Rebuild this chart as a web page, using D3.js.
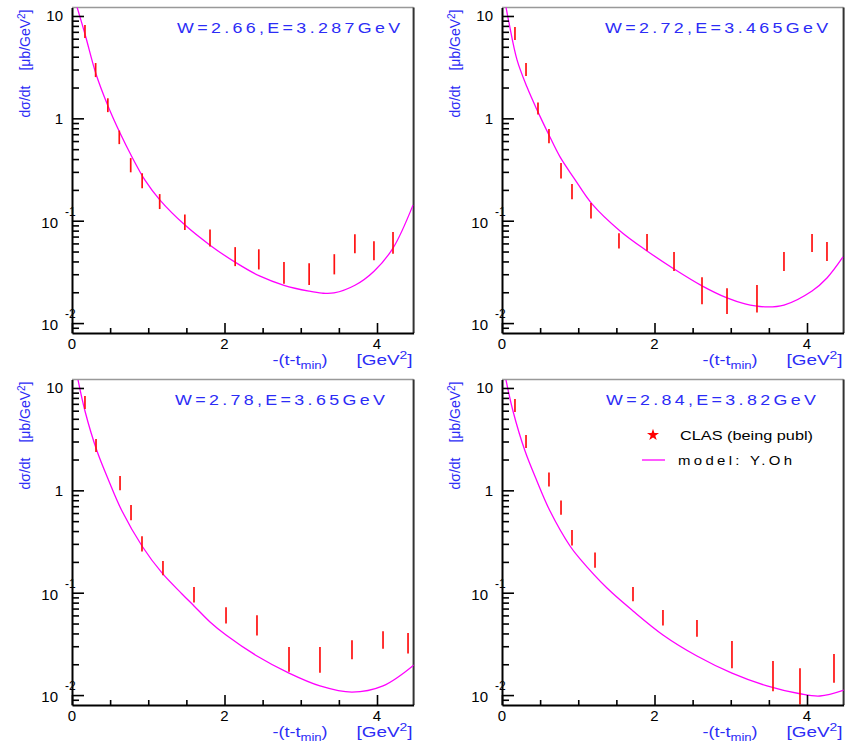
<!DOCTYPE html>
<html>
<head>
<meta charset="utf-8">
<script src="https://cdn.jsdelivr.net/npm/d3@7"></script>
<style>
body { margin: 0; background: #fff; }
text { font-family: "Liberation Sans", Arial, sans-serif; }
</style>
</head>
<body>
<div id="chart"></div>
<script>
// x: -(t-tmin) [GeV^2], y: dsigma/dt [ub/GeV^2]
var titles = ["W=2.66,E=3.287GeV", "W=2.72,E=3.465GeV", "W=2.78,E=3.65GeV", "W=2.84,E=3.82GeV"];

// CLAS points
var clasT1 = [0.17, 0.31, 0.47, 0.62, 0.77, 0.92, 1.15, 1.48, 1.81, 2.14, 2.45, 2.78, 3.11, 3.44, 3.71, 3.96, 4.21];
var clasY1 = [7.13, 3.0, 1.36, 0.66, 0.353, 0.249, 0.156, 0.098, 0.069, 0.0456, 0.043, 0.0318, 0.031, 0.0385, 0.061, 0.052, 0.0625];
var clasE1 = [1.03, 0.47, 0.21, 0.10, 0.056, 0.042, 0.026, 0.017, 0.013, 0.0096, 0.0096, 0.0076, 0.0074, 0.0086, 0.0129, 0.011, 0.0149];

var clasT2 = [0.17, 0.315, 0.472, 0.616, 0.774, 0.918, 1.167, 1.534, 1.902, 2.256, 2.623, 2.951, 3.344, 3.698, 4.066, 4.262];
var clasY2 = [6.82, 3.03, 1.26, 0.679, 0.313, 0.195, 0.127, 0.0646, 0.0625, 0.0408, 0.0217, 0.0171, 0.0181, 0.0408, 0.0618, 0.0511];
var clasE2 = [0.99, 0.44, 0.17, 0.107, 0.054, 0.033, 0.022, 0.011, 0.0115, 0.0086, 0.0064, 0.0048, 0.0054, 0.0086, 0.0122, 0.0108];

var clasT3 = [0.17, 0.315, 0.63, 0.774, 0.918, 1.193, 1.60, 2.02, 2.426, 2.846, 3.252, 3.672, 4.079, 4.407];
var clasY3 = [7.30, 2.77, 1.19, 0.614, 0.305, 0.176, 0.0968, 0.0611, 0.0493, 0.0232, 0.0230, 0.0284, 0.0352, 0.0329];
var clasE3 = [1.06, 0.40, 0.19, 0.105, 0.052, 0.028, 0.0166, 0.0112, 0.011, 0.0063, 0.0065, 0.006, 0.0069, 0.0074];

var clasT4 = [0.17, 0.315, 0.616, 0.774, 0.918, 1.22, 1.718, 2.111, 2.557, 3.016, 3.554, 3.908, 4.354];
var clasY4 = [6.82, 3.03, 1.29, 0.687, 0.349, 0.211, 0.098, 0.0577, 0.0456, 0.026, 0.0162, 0.0132, 0.0192];
var clasE4 = [1.0, 0.44, 0.2, 0.11, 0.06, 0.036, 0.0155, 0.0099, 0.0084, 0.0077, 0.0053, 0.0051, 0.006];

// model: Y.Oh
var modelT1 = [0.066, 0.17, 0.315, 0.472, 0.63, 0.787, 0.957, 1.154, 1.482, 1.81, 2.138, 2.466, 2.78, 3.108, 3.279, 3.436, 3.711, 3.961, 4.21, 4.472];
var modelY1 = [12.25, 6.67, 2.71, 1.32, 0.718, 0.419, 0.249, 0.159, 0.0906, 0.0577, 0.0394, 0.0287, 0.0234, 0.0205, 0.0196, 0.0197, 0.0234, 0.0321, 0.054, 0.142];

var modelT2 = [0.052, 0.092, 0.197, 0.328, 0.459, 0.603, 0.761, 0.944, 1.18, 1.548, 1.902, 2.256, 2.623, 2.951, 3.187, 3.449, 3.698, 4.066, 4.262, 4.472];
var modelY2 = [12.25, 8.55, 3.72, 2.02, 1.21, 0.72, 0.42, 0.261, 0.146, 0.0794, 0.0506, 0.0338, 0.0231, 0.0176, 0.0154, 0.0144, 0.0150, 0.0206, 0.0276, 0.0443];

var modelT3 = [0.079, 0.17, 0.328, 0.485, 0.656, 0.918, 1.18, 1.443, 1.60, 1.81, 2.02, 2.426, 2.846, 3.252, 3.672, 4.079, 4.485];
var modelY3 = [11.97, 5.96, 2.42, 1.23, 0.628, 0.286, 0.156, 0.0973, 0.0743, 0.0518, 0.0386, 0.0241, 0.0164, 0.0123, 0.0107, 0.0123, 0.0197];

var modelT4 = [0.052, 0.144, 0.302, 0.459, 0.63, 0.892, 1.023, 1.377, 1.718, 2.111, 2.557, 3.016, 3.475, 3.908, 4.17, 4.485];
var modelY4 = [11.97, 5.96, 2.42, 1.23, 0.628, 0.286, 0.214, 0.111, 0.0664, 0.0387, 0.0241, 0.0164, 0.0123, 0.0103, 0.0098, 0.0112];

var yMajor = [0.01, 0.1, 1, 10];
var xMajor = [0, 2, 4];
var xMinor = [0.5, 1, 1.5, 2.5, 3, 3.5];

var blue = "#2c2cf6";
var W = 846, H = 747;

var svg = d3.select("#chart").append("svg")
    .attr("width", W)
    .attr("height", H)
    .style("background", "#fff");

var panels = [
    {x0: 72, y0: 7.5, t: clasT1, y: clasY1, e: clasE1, mt: modelT1, my: modelY1},
    {x0: 502, y0: 7.5, t: clasT2, y: clasY2, e: clasE2, mt: modelT2, my: modelY2},
    {x0: 72, y0: 379.5, t: clasT3, y: clasY3, e: clasE3, mt: modelT3, my: modelY3},
    {x0: 502, y0: 379.5, t: clasT4, y: clasY4, e: clasE4, mt: modelT4, my: modelY4}
];

var pw = 341.6, ph = 325.5;

// minor y ticks 2..9 per decade
var yMinor = [];
[0.001, 0.01, 0.1, 1].forEach(function (d) {
    for (var k = 2; k <= 9; k++) yMinor.push(d * k);
});
yMinor = yMinor.filter(function (v) { return v > 0.008 && v < 12.1; });

// wide, spaced text like the ROOT font: stretch a bit, then pad spacing to fit width
function wideText(parent, x, y, str, size, width, color) {
    var sx = 1.15;
    var gg = parent.append("g").attr("transform", "translate(" + x + "," + y + ") scale(" + sx + ",1)");
    var tx = gg.append("text").attr("font-size", size).attr("fill", color).text(str);
    var natural = tx.node().getComputedTextLength();
    var ls = (width / sx - natural) / (str.length - 1);
    tx.attr("letter-spacing", ls);
    return tx;
}

panels.forEach(function (p, i) {
    var x = d3.scaleLinear().domain([0, 4.48]).range([p.x0, p.x0 + pw]);
    var y = d3.scaleLog().domain([0.008, 12.1]).range([p.y0 + ph, p.y0]);
    var g = svg.append("g");

    // frame: top and right
    g.append("line").attr("x1", p.x0).attr("x2", p.x0 + pw).attr("y1", p.y0).attr("y2", p.y0)
        .attr("stroke", "#999").attr("stroke-width", 1.5);
    g.append("line").attr("x1", p.x0 + pw).attr("x2", p.x0 + pw).attr("y1", p.y0).attr("y2", p.y0 + ph)
        .attr("stroke", "#333").attr("stroke-width", 2);

    var clipId = "clip" + i;
    svg.append("clipPath").attr("id", clipId).append("rect")
        .attr("x", p.x0).attr("y", p.y0).attr("width", pw).attr("height", ph);

    // model curve
    var pts = p.mt.map(function (d, j) { return [d, p.my[j]]; });
    var line = d3.line()
        .x(function (d) { return x(d[0]); })
        .y(function (d) { return y(d[1]); })
        .curve(d3.curveCatmullRom.alpha(0.5));
    g.append("path")
        .datum(pts)
        .attr("clip-path", "url(#" + clipId + ")")
        .attr("fill", "none")
        .attr("stroke", "#ff00ff")
        .attr("stroke-width", 1.3)
        .attr("d", line);

    // CLAS error bars
    var bars = p.t.map(function (d, j) { return {t: d, v: p.y[j], e: p.e[j]}; });
    g.append("g").selectAll("line")
        .data(bars)
        .enter().append("line")
        .attr("x1", function (d) { return x(d.t); })
        .attr("x2", function (d) { return x(d.t); })
        .attr("y1", function (d) { return y(d.v + d.e); })
        .attr("y2", function (d) { return y(d.v - d.e); })
        .attr("stroke", "#ff1010")
        .attr("stroke-width", 1.7);

    // axes
    var ax = g.append("g").attr("transform", "translate(" + p.x0 + ",0)");
    ax.call(d3.axisLeft(y).tickValues(yMajor).tickSizeInner(-12).tickSizeOuter(0).tickFormat(""));
    ax.append("g").call(d3.axisLeft(y).tickValues(yMinor).tickSizeInner(-7).tickSizeOuter(0).tickFormat(""))
        .select(".domain").remove();
    var bx = g.append("g").attr("transform", "translate(0," + (p.y0 + ph) + ")");
    bx.call(d3.axisBottom(x).tickValues(xMajor).tickSizeInner(-10).tickSizeOuter(0).tickFormat(""));
    bx.append("g").call(d3.axisBottom(x).tickValues(xMinor).tickSizeInner(-5).tickSizeOuter(0).tickFormat(""))
        .select(".domain").remove();
    g.selectAll(".domain").attr("stroke", "#000").attr("stroke-width", 2);
    g.selectAll(".tick line").attr("stroke", "#000").attr("stroke-width", 1.6);

    // y tick labels, ROOT style
    yMajor.forEach(function (v) {
        var ty = y(v);
        if (v >= 1) {
            g.append("text").attr("x", p.x0 - 9).attr("y", ty + 5.5)
                .attr("text-anchor", "end").attr("font-size", 15).text(v);
        } else {
            g.append("text").attr("x", p.x0 - 14).attr("y", ty + 7)
                .attr("text-anchor", "end").attr("font-size", 15).text("10");
            g.append("text").attr("x", p.x0 - 7).attr("y", ty - 5)
                .attr("font-size", 12).attr("fill", "#000")
                .text("-" + Math.round(-Math.log10(v)));
        }
    });
    xMajor.forEach(function (v) {
        g.append("text").attr("x", x(v)).attr("y", p.y0 + ph + 16)
            .attr("text-anchor", "middle").attr("font-size", 15).text(v);
    });

    // panel title
    wideText(g, [177, 605, 175, 606][i], p.y0 + 25.5, titles[i], 15.5,
        titles[i].length * 13.3 - 3, blue);

    // y title
    var yt = g.append("g").attr("transform", "translate(" + (p.x0 - 42) + "," + (p.y0 + 2) + ") rotate(-90)");
    var t1 = yt.append("text").attr("text-anchor", "end").attr("font-size", 14).attr("fill", blue);
    t1.append("tspan").text("[\u03bcb/GeV");
    t1.append("tspan").attr("dy", -5).attr("font-size", 10).text("2");
    t1.append("tspan").attr("dy", 5).text("]");
    yt.append("text").attr("x", -108).attr("font-size", 14).attr("fill", blue).text("d\u03c3/dt");

    // x title
    var xb = p.y0 + ph + 32;
    var xt = g.append("text").attr("x", p.x0 + pw - 141).attr("y", xb)
        .attr("font-size", 15).attr("fill", blue)
        .attr("textLength", 55).attr("lengthAdjust", "spacingAndGlyphs");
    xt.append("tspan").text("-(t-t");
    xt.append("tspan").attr("dy", 4).attr("font-size", 11).text("min");
    xt.append("tspan").attr("dy", -4).text(")");
    var xu = g.append("text").attr("x", p.x0 + pw - 57).attr("y", xb)
        .attr("font-size", 15).attr("fill", blue)
        .attr("textLength", 56).attr("lengthAdjust", "spacingAndGlyphs");
    xu.append("tspan").text("[GeV");
    xu.append("tspan").attr("dy", -6).attr("font-size", 11).text("2");
    xu.append("tspan").attr("dy", 6).text("]");
});

// legend in the last panel
var lg = svg.append("g");
lg.append("path")
    .attr("d", d3.symbol().type(d3.symbolStar).size(45)())
    .attr("transform", "translate(653,435)")
    .attr("fill", "#ff0000");
lg.append("text").attr("x", 680).attr("y", 440).attr("font-size", 13.5)
    .attr("textLength", 133).attr("lengthAdjust", "spacingAndGlyphs")
    .text("CLAS (being publ)");
lg.append("line").attr("x1", 642).attr("x2", 665).attr("y1", 460).attr("y2", 460)
    .attr("stroke", "#ff00ff").attr("stroke-width", 1.3);
wideText(lg, 678, 465, "model: Y.Oh", 13, 114, "#000");
</script>
</body>
</html>
